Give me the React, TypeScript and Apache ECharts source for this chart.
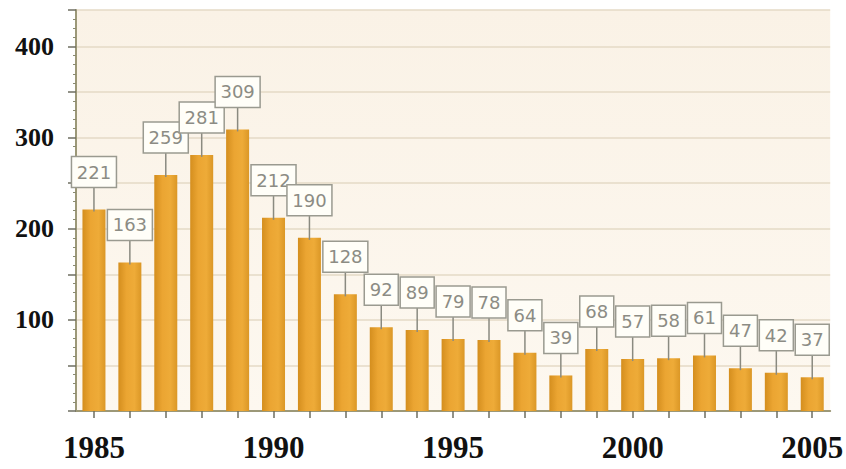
import React, { useEffect, useRef } from "react";
import * as echarts from "echarts";

const years = ["1985","1986","1987","1988","1989","1990","1991","1992","1993","1994","1995","1996","1997","1998","1999","2000","2001","2002","2003","2004","2005"];
const values = [221,163,259,281,309,212,190,128,92,89,79,78,64,39,68,57,58,61,47,42,37];
const yTickLabels = [100, 200, 300, 400];

export default function App() {
  const ref = useRef<HTMLDivElement>(null);
  useEffect(() => {
    const chart = echarts.init(ref.current!, null, { renderer: "svg" });
    const labelData = values.map((v, i) => [i, v]);
    chart.setOption({
      animation: false,
      backgroundColor: "#ffffff",
      grid: {
        left: 76, right: 6, top: 10, bottom: 58,
        show: true,
        borderWidth: 0,
        backgroundColor: new echarts.graphic.LinearGradient(0, 0, 0, 1, [
          { offset: 0, color: "#FAF2E6" },
          { offset: 1, color: "#FDF8F0" },
        ]),
      },
      xAxis: {
        type: "category",
        data: years,
        axisLine: { lineStyle: { color: "#9C9878", width: 2 } },
        axisTick: { show: true, alignWithLabel: true, interval: 0, length: 7, lineStyle: { color: "#6E6E60", width: 1.5 } },
        axisLabel: {
          interval: 4,
          margin: 21,
          fontFamily: "Liberation Serif",
          fontSize: 31,
          fontWeight: "bold",
          color: "#111111",
        },
        splitLine: { show: false },
      },
      yAxis: {
        type: "value",
        min: 0,
        max: 440,
        interval: 50,
        axisLine: { show: true, lineStyle: { color: "#9C9878", width: 2 } },
        axisTick: { show: true, length: 8, lineStyle: { color: "#6E6E60", width: 1.5 } },
        minorTick: { show: true, splitNumber: 5, length: 3, lineStyle: { color: "#8A8A70" } },
        axisLabel: {
          margin: 22,
          fontFamily: "Liberation Serif",
          fontSize: 26,
          fontWeight: "bold",
          color: "#111111",
          formatter: (v: number) => (yTickLabels.indexOf(v) >= 0 ? String(v) : ""),
        },
        splitLine: { show: true, lineStyle: { color: "#E5DAC6", width: 1.5 } },
      },
      series: [
        {
          type: "bar",
          data: values,
          barWidth: 23,
          itemStyle: {
            color: new echarts.graphic.LinearGradient(0, 0, 1, 0, [
              { offset: 0, color: "#D48E1E" },
              { offset: 0.35, color: "#EBA532" },
              { offset: 0.7, color: "#EEAB38" },
              { offset: 1, color: "#DB9726" },
            ]),
          },
          z: 2,
        },
        {
          type: "custom",
          data: labelData,
          silent: true,
          z: 5,
          renderItem: (params: any, api: any) => {
            const i = api.value(0);
            const v = api.value(1);
            const p = api.coord([i, v]);
            const txt = String(v);
            const w = txt.length * 11 + 12;
            const h = 31;
            const bottom = p[1] - 22;
            return {
              type: "group",
              children: [
                { type: "line", shape: { x1: p[0], y1: p[1] + 2, x2: p[0], y2: bottom }, style: { stroke: "#8A8A80", lineWidth: 1.5 } },
                { type: "rect", shape: { x: p[0] - w / 2, y: bottom - h, width: w, height: h }, style: { fill: "#FFFEF8", stroke: "#9A9A90", lineWidth: 1.5 } },
                {
                  type: "text",
                  x: p[0],
                  y: bottom - h / 2,
                  style: {
                    text: txt,
                    fill: "#8C8C84",
                    font: "18px 'DejaVu Sans'",
                    align: "center",
                    verticalAlign: "middle",
                  },
                },
              ],
            };
          },
        },
      ],
    });
    return () => chart.dispose();
  }, []);
  return <div ref={ref} style={{ width: 846, height: 469, position: "absolute", left: 0, top: 0 }} />;
}
